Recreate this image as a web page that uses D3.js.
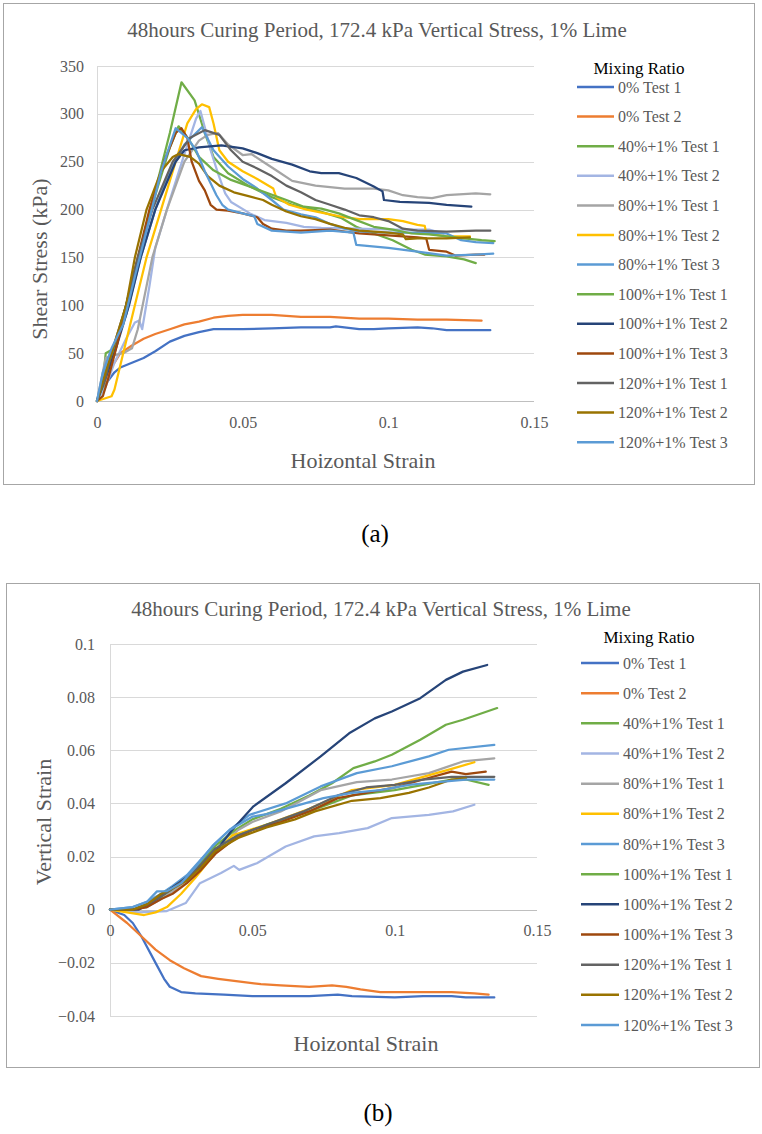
<!DOCTYPE html>
<html><head><meta charset="utf-8">
<script src="https://cdn.jsdelivr.net/npm/d3@7"></script>
<style>body{margin:0;background:#fff}svg{display:block}svg text{font-family:"Liberation Serif","DejaVu Serif","Noto Serif",serif}</style>
</head><body>
<svg id="c" width="762" height="1134"></svg>
<script>
const titleText = "48hours Curing Period, 172.4 kPa Vertical Stress, 1% Lime";
const seriesNames = ["0% Test 1","0% Test 2","40%+1% Test 1","40%+1% Test 2","80%+1% Test 1","80%+1% Test 2","80%+1% Test 3","100%+1% Test 1","100%+1% Test 2","100%+1% Test 3","120%+1% Test 1","120%+1% Test 2","120%+1% Test 3"];
const seriesColors = ["#4472C4","#ED7D31","#70AD47","#A3B5E3","#A5A5A5","#FFC000","#5B9BD5","#70AD47","#264478","#9E480E","#636363","#997300","#5B9BD5"];
const xTicks = [0,0.05,0.1,0.15];
const shearTicks = [0,50,100,150,200,250,300,350];
const vertTicks = [-0.04,-0.02,0,0.02,0.04,0.06,0.08,0.1];

// Shear stress (kPa) vs horizontal strain
const s0T1 = [[0,0],[0.003,18],[0.006,30],[0.008,35],[0.012,40],[0.016,45],[0.02,52],[0.025,62],[0.03,68],[0.035,72],[0.04,75],[0.05,75],[0.06,76],[0.07,77],[0.08,77],[0.082,78],[0.09,75],[0.095,75],[0.1,76],[0.11,77],[0.115,76],[0.12,74],[0.135,74]];
const s0T2 = [[0,0],[0.004,30],[0.008,50],[0.012,58],[0.016,65],[0.02,70],[0.025,75],[0.03,80],[0.035,83],[0.04,87],[0.045,89],[0.05,90],[0.06,90],[0.07,88],[0.08,88],[0.09,86],[0.1,86],[0.11,85],[0.12,85],[0.132,84]];
const s40T1 = [[0,0],[0.002,20],[0.003,50],[0.006,55],[0.01,100],[0.015,160],[0.02,220],[0.025,280],[0.029,333],[0.0335,314],[0.037,280],[0.04,255],[0.045,238],[0.0525,224],[0.06,213],[0.067,205],[0.0745,200],[0.084,191],[0.089,182],[0.095,175],[0.1015,168],[0.108,158],[0.1125,153],[0.12,151],[0.126,148],[0.13,144]];
const s40T2 = [[0,0],[0.003,15],[0.006,40],[0.01,65],[0.013,82],[0.0145,84],[0.0155,75],[0.018,120],[0.02,160],[0.025,210],[0.03,258],[0.034,295],[0.0355,303],[0.037,286],[0.039,262],[0.0415,238],[0.044,217],[0.046,208],[0.0525,196],[0.0575,189],[0.065,186],[0.071,182],[0.077,181],[0.089,180],[0.1015,179],[0.114,179],[0.119,175]];
const s80T1 = [[0,0],[0.002,30],[0.003,45],[0.006,48],[0.009,50],[0.012,55],[0.014,75],[0.017,120],[0.019,150],[0.024,200],[0.03,250],[0.035,272],[0.038,278],[0.0415,280],[0.045,268],[0.05,257],[0.053,258],[0.057,250],[0.062,240],[0.067,230],[0.075,225],[0.085,222],[0.095,222],[0.1,220],[0.105,215],[0.11,213],[0.115,212],[0.12,215],[0.13,217],[0.135,216]];
const s80T2 = [[0,0],[0.005,5],[0.006,12],[0.009,50],[0.013,100],[0.017,150],[0.022,200],[0.027,250],[0.031,290],[0.034,305],[0.036,310],[0.0385,307],[0.04,290],[0.042,262],[0.045,250],[0.05,240],[0.055,232],[0.0605,222],[0.0615,213],[0.066,205],[0.072,200],[0.08,195],[0.085,192],[0.09,190],[0.1,190],[0.105,188],[0.11,184],[0.1125,183],[0.113,175],[0.12,172],[0.128,172]];
const s80T3 = [[0,0],[0.002,25],[0.005,50],[0.01,90],[0.015,150],[0.02,200],[0.025,240],[0.03,268],[0.036,286],[0.04,262],[0.045,245],[0.05,232],[0.055,222],[0.06,210],[0.064,200],[0.07,195],[0.075,192],[0.08,185],[0.085,180],[0.09,177],[0.1,176],[0.11,176],[0.12,175],[0.125,168],[0.13,166],[0.136,165]];
const s100T1 = [[0,0],[0.002,15],[0.005,45],[0.01,100],[0.015,160],[0.02,215],[0.025,265],[0.028,287],[0.0316,273],[0.035,255],[0.04,241],[0.046,231],[0.0525,224],[0.065,210],[0.071,203],[0.077,201],[0.083,196],[0.089,189],[0.095,182],[0.1015,179],[0.108,175],[0.114,174],[0.12,172],[0.126,170],[0.132,168],[0.1365,167]];
const s100T2 = [[0,0],[0.003,25],[0.006,50],[0.011,100],[0.015,150],[0.02,200],[0.027,250],[0.03,262],[0.035,265],[0.0427,267],[0.05,264],[0.055,259],[0.06,253],[0.067,247],[0.073,240],[0.077,238],[0.083,238],[0.089,233],[0.095,224],[0.098,219],[0.0985,210],[0.104,208],[0.114,207],[0.12,205],[0.1285,203]];
const s100T3 = [[0,0],[0.002,5],[0.004,25],[0.007,60],[0.01,100],[0.014,150],[0.018,200],[0.023,250],[0.027,280],[0.029,285],[0.031,275],[0.0325,250],[0.035,230],[0.037,220],[0.039,205],[0.041,200],[0.045,199],[0.05,196],[0.055,192],[0.057,185],[0.06,180],[0.065,178],[0.07,178],[0.08,179],[0.09,175],[0.1,173],[0.11,171],[0.113,170],[0.114,158],[0.12,156],[0.123,152],[0.13,153],[0.133,153]];
const s120T1 = [[0,0],[0.003,25],[0.005,50],[0.01,100],[0.014,150],[0.019,200],[0.026,250],[0.032,275],[0.037,283],[0.042,278],[0.046,262],[0.05,250],[0.055,243],[0.06,235],[0.065,225],[0.07,218],[0.075,210],[0.08,205],[0.085,200],[0.09,194],[0.095,192],[0.1,188],[0.105,180],[0.11,178],[0.12,177],[0.13,178],[0.135,178]];
const s120T2 = [[0,0],[0.003,30],[0.006,60],[0.01,100],[0.013,150],[0.017,200],[0.022,240],[0.026,255],[0.028,258],[0.032,255],[0.035,248],[0.038,235],[0.042,225],[0.047,218],[0.052,214],[0.057,210],[0.06,205],[0.065,198],[0.07,193],[0.075,190],[0.08,185],[0.085,181],[0.09,178],[0.1,176],[0.105,174],[0.106,169],[0.11,170],[0.12,170],[0.128,171]];
const s120T3 = [[0,0],[0.002,30],[0.005,55],[0.009,80],[0.013,130],[0.018,190],[0.022,240],[0.027,285],[0.031,275],[0.034,262],[0.037,240],[0.041,215],[0.043,205],[0.045,200],[0.05,196],[0.054,193],[0.055,185],[0.06,178],[0.07,176],[0.08,178],[0.088,176],[0.089,163],[0.1,160],[0.11,156],[0.12,152],[0.13,153],[0.136,154]];

// Vertical strain vs horizontal strain
const v0T1 = [[0,0],[0.005,-0.002],[0.008,-0.005],[0.011,-0.01],[0.016,-0.02],[0.019,-0.026],[0.021,-0.029],[0.025,-0.031],[0.03,-0.0315],[0.04,-0.032],[0.05,-0.0325],[0.07,-0.0325],[0.08,-0.032],[0.085,-0.0325],[0.1,-0.033],[0.11,-0.0325],[0.12,-0.0325],[0.125,-0.033],[0.135,-0.033]];
const v0T2 = [[0,0],[0.006,-0.005],[0.011,-0.01],[0.016,-0.015],[0.021,-0.019],[0.026,-0.022],[0.032,-0.025],[0.038,-0.026],[0.045,-0.027],[0.053,-0.028],[0.06,-0.0285],[0.07,-0.029],[0.078,-0.0285],[0.083,-0.029],[0.088,-0.03],[0.095,-0.031],[0.12,-0.031],[0.128,-0.0315],[0.133,-0.032]];
const v40T1 = [[0,0],[0.008,0],[0.013,0.002],[0.018,0.005],[0.022,0.008],[0.027,0.012],[0.032,0.018],[0.037,0.024],[0.044,0.03],[0.05,0.034],[0.06,0.038],[0.07,0.043],[0.078,0.0476],[0.0855,0.0533],[0.093,0.0558],[0.099,0.0583],[0.109,0.064],[0.118,0.0696],[0.124,0.0715],[0.136,0.0759]];
const v40T2 = [[0,0],[0.01,-0.001],[0.02,-0.0005],[0.0266,0.0025],[0.0316,0.01],[0.039,0.0138],[0.0435,0.0165],[0.0454,0.015],[0.0516,0.0175],[0.0617,0.0238],[0.0717,0.0276],[0.0805,0.0288],[0.0905,0.0307],[0.099,0.0345],[0.112,0.0357],[0.1205,0.037],[0.128,0.0395]];
const v80T1 = [[0,0],[0.008,0],[0.013,0.001],[0.018,0.004],[0.022,0.007],[0.027,0.011],[0.032,0.016],[0.037,0.022],[0.042,0.027],[0.045,0.03],[0.05,0.033],[0.06,0.037],[0.074,0.045],[0.0867,0.048],[0.099,0.049],[0.112,0.0514],[0.124,0.0558],[0.135,0.057]];
const v80T2 = [[0,0],[0.006,-0.001],[0.012,-0.002],[0.016,-0.001],[0.02,0.001],[0.025,0.006],[0.03,0.012],[0.036,0.02],[0.043,0.028],[0.055,0.032],[0.07,0.038],[0.085,0.045],[0.1,0.047],[0.11,0.05],[0.12,0.053],[0.128,0.0555]];
const v80T3 = [[0,0],[0.008,0.001],[0.013,0.003],[0.018,0.006],[0.022,0.009],[0.027,0.013],[0.032,0.019],[0.037,0.025],[0.042,0.03],[0.049,0.0357],[0.0617,0.04],[0.074,0.0464],[0.0867,0.0514],[0.099,0.054],[0.112,0.0577],[0.119,0.0602],[0.135,0.062]];
const v100T1 = [[0,0],[0.008,0],[0.013,0.002],[0.018,0.005],[0.022,0.008],[0.027,0.012],[0.032,0.017],[0.037,0.023],[0.045,0.028],[0.055,0.032],[0.07,0.037],[0.085,0.043],[0.1,0.045],[0.11,0.047],[0.12,0.049],[0.125,0.049],[0.133,0.047]];
const v100T2 = [[0,0],[0.01,0],[0.015,0.003],[0.0216,0.0081],[0.029,0.0138],[0.0366,0.0213],[0.0429,0.03],[0.0504,0.0389],[0.0617,0.0476],[0.074,0.0577],[0.084,0.0664],[0.093,0.072],[0.099,0.0746],[0.109,0.0796],[0.118,0.0865],[0.124,0.0896],[0.1325,0.0921]];
const v100T3 = [[0,0],[0.008,0],[0.013,0.001],[0.018,0.004],[0.022,0.006],[0.027,0.01],[0.032,0.015],[0.037,0.021],[0.043,0.026],[0.05,0.03],[0.06,0.033],[0.07,0.037],[0.08,0.042],[0.09,0.044],[0.1,0.046],[0.11,0.049],[0.12,0.052],[0.125,0.051],[0.132,0.052]];
const v120T1 = [[0,0],[0.008,0],[0.013,0.002],[0.018,0.005],[0.022,0.008],[0.027,0.012],[0.032,0.017],[0.037,0.023],[0.045,0.028],[0.055,0.032],[0.068,0.037],[0.08,0.043],[0.09,0.046],[0.1,0.047],[0.11,0.049],[0.12,0.05],[0.135,0.05]];
const v120T2 = [[0,0],[0.008,0],[0.013,0.002],[0.018,0.006],[0.022,0.008],[0.027,0.011],[0.032,0.016],[0.037,0.022],[0.045,0.027],[0.055,0.031],[0.065,0.034],[0.072,0.037],[0.085,0.041],[0.095,0.042],[0.105,0.044],[0.112,0.046],[0.12,0.049],[0.125,0.0495]];
const v120T3 = [[0,0],[0.008,0.001],[0.013,0.003],[0.0165,0.0069],[0.02,0.007],[0.025,0.01],[0.03,0.016],[0.036,0.024],[0.042,0.03],[0.05,0.035],[0.055,0.036],[0.065,0.039],[0.075,0.042],[0.085,0.044],[0.095,0.045],[0.105,0.047],[0.115,0.048],[0.125,0.049],[0.135,0.049]];

const shearSeries = [s0T1,s0T2,s40T1,s40T2,s80T1,s80T2,s80T3,s100T1,s100T2,s100T3,s120T1,s120T2,s120T3];
const vertSeries = [v0T1,v0T2,v40T1,v40T2,v80T1,v80T2,v80T3,v100T1,v100T2,v100T3,v120T1,v120T2,v120T3];

const svg = d3.select("#c");
const grey = "#595959";
const serif = "'Liberation Serif','DejaVu Serif','Noto Serif',serif";

function chart(cfg){
  const g = svg.append("g");
  g.append("rect").attr("x",cfg.frame[0]+0.5).attr("y",cfg.frame[1]+0.5)
    .attr("width",cfg.frame[2]-cfg.frame[0]).attr("height",cfg.frame[3]-cfg.frame[1])
    .attr("fill","#fff").attr("stroke","#a6a6a6").attr("stroke-width",1);
  const x = d3.scaleLinear().domain([0,0.15]).range([cfg.px0,cfg.px1]);
  const y = d3.scaleLinear().domain(cfg.ydom).range([cfg.py1,cfg.py0]);
  g.append("g").selectAll("line").data(cfg.yticks).join("line")
    .attr("x1",cfg.px0).attr("x2",cfg.px1)
    .attr("y1",d=>Math.round(y(d))+0.5).attr("y2",d=>Math.round(y(d))+0.5)
    .attr("stroke",d=>d===0?"#bfbfbf":"#d9d9d9").attr("stroke-width",1);
  g.append("line").attr("x1",cfg.px0+0.5).attr("x2",cfg.px0+0.5)
    .attr("y1",cfg.py0).attr("y2",cfg.py1).attr("stroke","#d9d9d9");
  const yAx = d3.axisLeft(y).tickValues(cfg.yticks).tickSize(0).tickPadding(0).tickFormat(d=>d3.format("~g")(d));
  const ya = g.append("g").attr("transform",`translate(${cfg.ylabX},0)`).call(yAx);
  ya.select(".domain").remove();
  ya.attr("font-family",serif);
  ya.selectAll("text").attr("font-size",16).attr("fill",grey).style("font-family",serif);
  const xAx = d3.axisBottom(x).tickValues(xTicks).tickSize(0).tickPadding(0).tickFormat(d=>d3.format("~g")(d));
  const xa = g.append("g").attr("transform",`translate(0,${cfg.xlabY})`).call(xAx);
  xa.select(".domain").remove();
  xa.attr("font-family",serif);
  xa.selectAll("text").attr("font-size",16).attr("fill",grey).style("font-family",serif).attr("dy","0.35em");
  const line = d3.line().x(d=>x(d[0])).y(d=>y(d[1]));
  g.append("g").selectAll("path").data(cfg.data).join("path")
    .attr("d",line).attr("fill","none").attr("stroke",(d,i)=>seriesColors[i])
    .attr("stroke-width",2.25).attr("stroke-linejoin","round").attr("stroke-linecap","round");
  g.append("text").attr("x",cfg.titleX).attr("y",cfg.titleY).attr("text-anchor","middle").attr("dy","0.35em")
    .attr("font-size",21).attr("fill",grey).style("font-family",serif).text(titleText);
  g.append("text").attr("x",cfg.xtX).attr("y",cfg.xtY).attr("text-anchor","middle").attr("dy","0.35em")
    .attr("font-size",22).attr("fill",grey).style("font-family",serif).text("Hoizontal Strain");
  g.append("text").attr("transform",`translate(${cfg.ytX},${cfg.ytY}) rotate(-90)`).attr("text-anchor","middle").attr("dy","0.35em")
    .attr("font-size",22).attr("fill",grey).style("font-family",serif).text(cfg.ytitle);
  const lg = g.append("g");
  lg.append("text").attr("x",cfg.legTitleX).attr("y",cfg.legTitleY).attr("text-anchor","middle").attr("dy","0.35em")
    .attr("font-size",17).attr("fill","#000").style("font-family",serif).text("Mixing Ratio");
  const items = lg.selectAll("g").data(seriesNames).join("g")
    .attr("transform",(d,i)=>`translate(0,${cfg.legY0+i*cfg.legDy})`);
  items.append("line").attr("x1",cfg.legX0).attr("x2",cfg.legX1).attr("y1",0).attr("y2",0)
    .attr("stroke",(d,i)=>seriesColors[i]).attr("stroke-width",2.5);
  items.append("text").attr("x",cfg.legX1+4).attr("y",0).attr("dy","0.35em").attr("font-size",16).attr("fill",grey).style("font-family",serif).text(d=>d);
}

chart({frame:[3,3,754,484], px0:97, px1:534, py0:66, py1:401, ydom:[0,350], yticks:shearTicks,
  data:shearSeries, ylabX:84, xlabY:422, titleX:377, titleY:30, xtX:363, xtY:460, ytX:39, ytY:259,
  ytitle:"Shear Stress (kPa)", legTitleX:639, legTitleY:68, legY0:87, legDy:29.6, legX0:577, legX1:614});
chart({frame:[6,583,759,1067], px0:110, px1:537, py0:644, py1:1016, ydom:[-0.04,0.1], yticks:vertTicks,
  data:vertSeries, ylabX:95, xlabY:930, titleX:381, titleY:609, xtX:366, xtY:1043, ytX:43, ytY:822,
  ytitle:"Vertical Strain", legTitleX:649, legTitleY:637, legY0:663, legDy:30.17, legX0:581, legX1:619});

svg.append("text").attr("x",375).attr("y",533).attr("text-anchor","middle").attr("dy","0.35em").attr("font-size",25).attr("fill","#000").style("font-family",serif).text("(a)");
svg.append("text").attr("x",378).attr("y",1112).attr("text-anchor","middle").attr("dy","0.35em").attr("font-size",25).attr("fill","#000").style("font-family",serif).text("(b)");
</script>
</body></html>
